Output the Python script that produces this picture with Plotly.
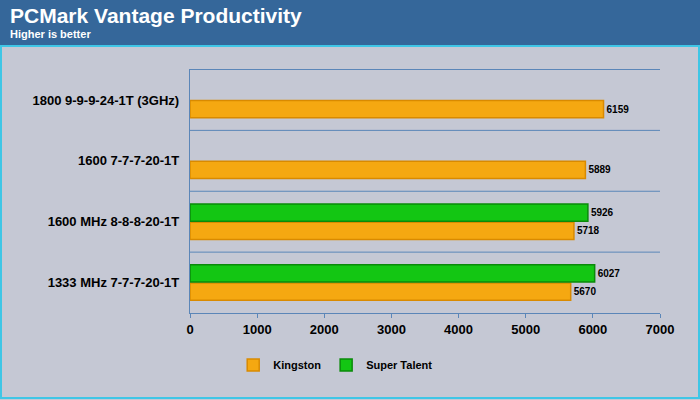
import plotly.graph_objects as go

categories = ["1333 MHz 7-7-7-20-1T", "1600 MHz 8-8-8-20-1T", "1600 7-7-7-20-1T", "1800 9-9-9-24-1T (3GHz)"]
kingston = [5670, 5718, 5889, 6159]
super_talent = [6027, 5926, None, None]

H = 244.0
def py(px):  # pixel from top -> paper y
    return 1 + (69 - px) / H

fig = go.Figure()
fig.add_bar(y=categories, x=kingston, orientation="h", name="Kingston",
            marker=dict(color="#f5a811", line=dict(color="#d98a00", width=1.5)),
            text=[str(v) for v in kingston], textposition="outside",
            textfont=dict(size=10, color="black", family="Liberation Sans", weight="bold"), cliponaxis=False)
fig.add_bar(y=categories, x=super_talent, orientation="h", name="Super Talent",
            marker=dict(color="#13c613", line=dict(color="#0a8a0a", width=1.5)),
            text=[str(v) if v else "" for v in super_talent], textposition="outside",
            textfont=dict(size=10, color="black", family="Liberation Sans", weight="bold"), cliponaxis=False)

shapes = [
    dict(type="rect", xref="paper", yref="paper", x0=-190/470, x1=1+40/470, y0=py(45), y1=py(0),
         fillcolor="#35679a", line=dict(width=0), layer="below"),
    dict(type="rect", xref="paper", yref="paper", x0=-189/470, x1=1+39/470, y0=py(398), y1=py(46),
         fillcolor="rgba(0,0,0,0)", line=dict(color="#3fc6e6", width=2)),
]
for i in range(len(categories)):
    shapes.append(dict(type="line", xref="paper", yref="y", x0=0, x1=1, y0=i + 0.5, y1=i + 0.5,
                       line=dict(color="#5b86b8", width=1), layer="below"))

fig.update_layout(
    width=700, height=400, margin=dict(l=190, r=40, t=69, b=87, autoexpand=False),
    paper_bgcolor="#c5c8d4", plot_bgcolor="#c5c8d4",
    font=dict(family="Liberation Sans", size=12, color="black", weight="bold"),
    barmode="group", bargap=0.4, bargroupgap=0.05,
    shapes=shapes, showlegend=True,
    legend=dict(orientation="h", x=0.31, y=py(365), yanchor="middle", xanchor="center",
                font=dict(size=11), bgcolor="rgba(0,0,0,0)", itemwidth=30),
    xaxis=dict(range=[0, 7000], tickvals=list(range(0, 7001, 1000)), showgrid=False, automargin=False,
               zeroline=False, showline=True, linecolor="#5b86b8", ticks="outside", ticklen=4,
               tickcolor="#5b86b8", tickfont=dict(size=13)),
    yaxis=dict(showgrid=False, showline=True, linecolor="#5b86b8", ticks="", tickfont=dict(size=13),
               ticksuffix="  ", automargin=False),
    annotations=[
        dict(text="PCMark Vantage Productivity", xref="paper", yref="paper", x=-182/470, y=py(2),
             xanchor="left", yanchor="top", showarrow=False, font=dict(size=21, color="white", weight="bold")),
        dict(text="Higher is better", xref="paper", yref="paper", x=-182/470, y=py(26),
             xanchor="left", yanchor="top", showarrow=False, font=dict(size=11, color="white", weight="bold")),
    ],
)
fig.write_html("out.html", config={"displayModeBar": False},
               post_script="document.body.style.margin='0';document.body.style.overflow='hidden';")
